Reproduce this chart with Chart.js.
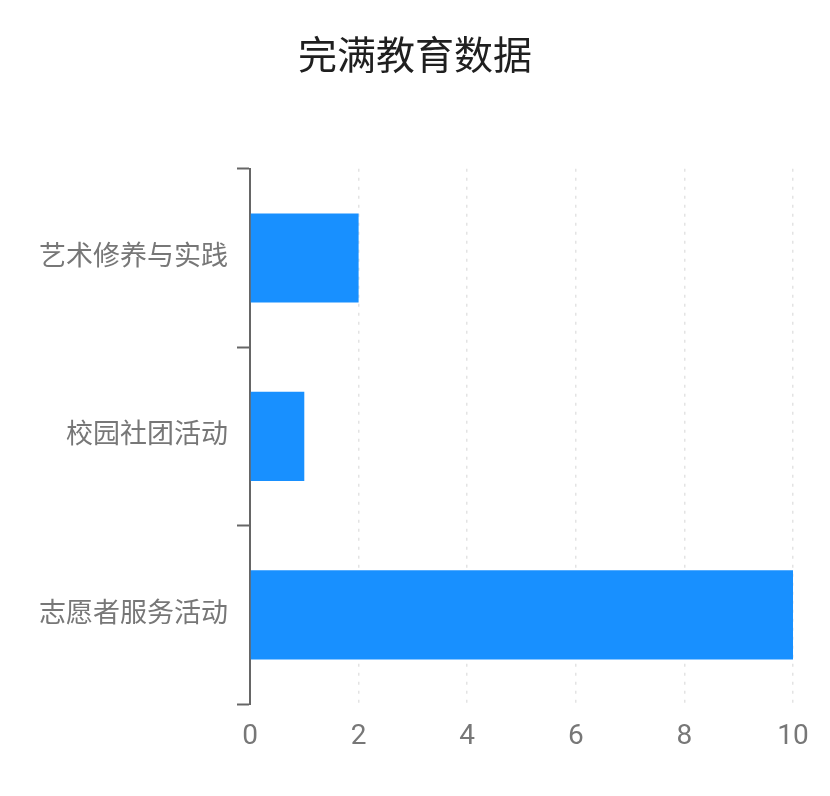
<!DOCTYPE html>
<html>
<head>
<meta charset="utf-8">
<script src="https://cdn.jsdelivr.net/npm/chart.js@4"></script>
<style>
  html, body { margin: 0; padding: 0; background: #fff; }
  #wrap { width: 830px; height: 796px; }
</style>
</head>
<body>
<div id="wrap"><canvas id="chart" width="830" height="796"></canvas></div>
<script>
// chart data
const categories = ['艺术修养与实践', '校园社团活动', '志愿者服务活动'];
const values = [2, 1, 10];
const xTicks = [0, 2, 4, 6, 8, 10];

const fontFamily = "Roboto, 'Noto Sans CJK SC', sans-serif";

// keep the title centred on the whole canvas, not on the padded box
const centreTitle = {
  id: 'centreTitle',
  afterLayout(chart) {
    const t = chart.titleBlock;
    if (t) {
      t.left = 0;
      t.right = chart.width;
      t.width = chart.width;
    }
  }
};

const ctx = document.getElementById('chart').getContext('2d');
new Chart(ctx, {
  type: 'bar',
  data: {
    labels: categories,
    datasets: [{
      data: values,
      backgroundColor: '#1890ff',
      barPercentage: 0.5,
      categoryPercentage: 1
    }]
  },
  plugins: [centreTitle],
  options: {
    indexAxis: 'y',
    responsive: false,
    animation: false,
    layout: { padding: { left: 0, right: 37, top: 0, bottom: 0 } },
    plugins: {
      legend: { display: false },
      tooltip: { enabled: false },
      title: {
        display: true,
        text: '完满教育数据',
        color: '#1f1f1f',
        font: { family: fontFamily, size: 39, weight: 'normal', lineHeight: 1.2 },
        padding: { top: 36, bottom: 86 }
      }
    },
    scales: {
      x: {
        min: xTicks[0],
        max: xTicks[xTicks.length - 1],
        afterBuildTicks: scale => { scale.ticks = xTicks.map(v => ({ value: v })); },
        afterFit: scale => { scale.height = 92; },
        grid: {
          color: '#e3e3e3',
          lineWidth: 1.5,
          drawTicks: false
        },
        border: { display: false, dash: [3, 6] },
        ticks: {
          color: '#777',
          padding: 16,
          font: { family: fontFamily, size: 28 }
        }
      },
      y: {
        offset: true,
        afterFit: scale => { scale.width = 250; },
        border: { display: true, color: '#666', width: 2 },
        grid: {
          offset: true,
          drawOnChartArea: false,
          drawTicks: true,
          tickLength: 13,
          tickColor: '#666',
          tickWidth: 2
        },
        ticks: {
          color: '#777',
          padding: 9,
          font: { family: fontFamily, size: 27 }
        }
      }
    }
  }
});
</script>
</body>
</html>
